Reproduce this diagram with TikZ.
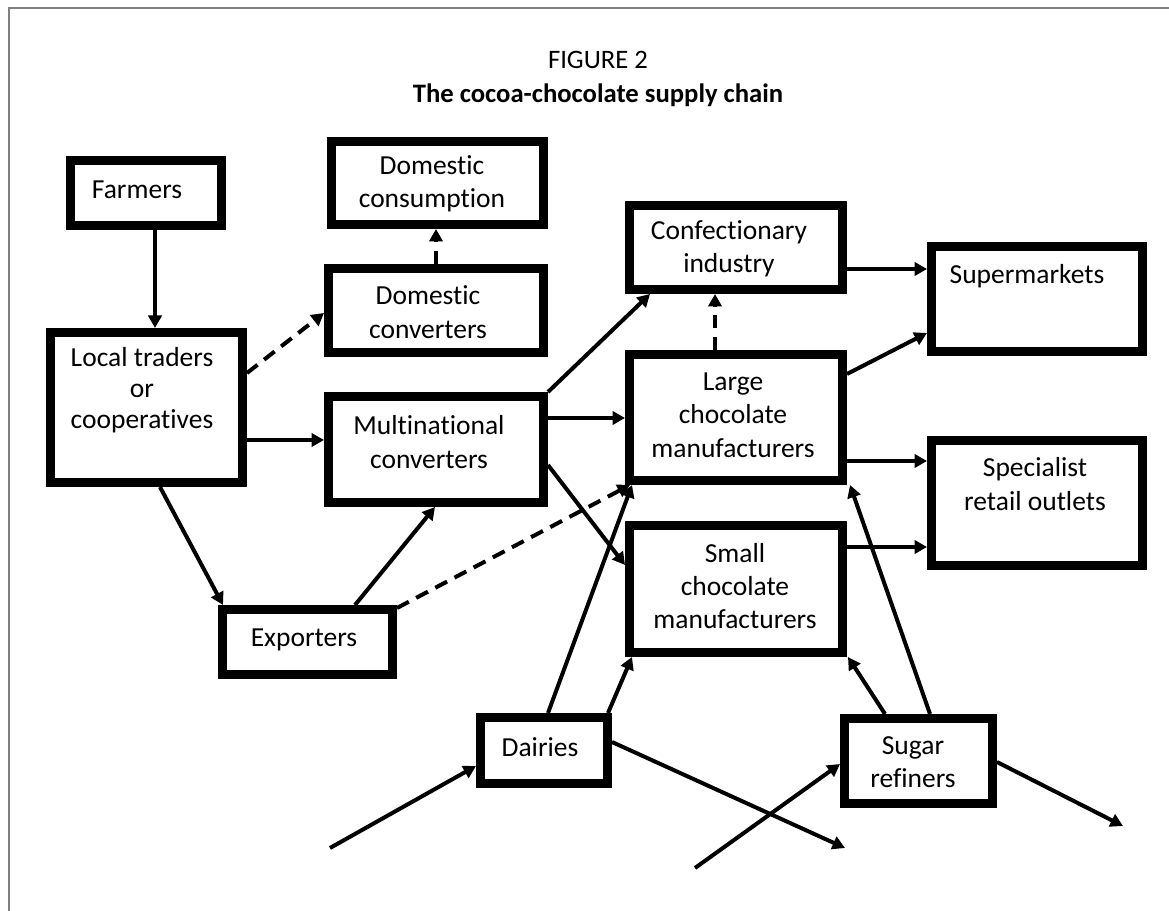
\documentclass[tikz,border=0pt]{standalone}
\usepackage{fontspec}
\setmainfont{Carlito}[Ligatures=NoCommon]
\usetikzlibrary{arrows.meta}
\begin{document}
\begin{tikzpicture}[x=0.6pt,y=-0.6pt,
  box/.style={draw=black, line width=5.4pt, inner sep=0pt, fill=white},
  lbl/.style={align=center, font=\fontsize{16.5}{20}\selectfont, inner sep=0pt},
  arr/.style={line width=2.4pt, -{Triangle[length=7.5pt,width=8pt]}},
  darr/.style={arr, dash pattern=on 8pt off 5pt},
  ttl/.style={font=\fontsize{16}{20}\selectfont, inner sep=0pt}]
\useasboundingbox (0,0) rectangle (1169,911);
\fill[white] (0,0) rectangle (1169,911);
\draw[gray, line width=1.2pt] (9,911) -- (9,8) -- (1169,8);

% title
\node[ttl] (title1) at (598,60) {FIGURE 2};
\node[ttl, font=\fontsize{16}{20}\selectfont\bfseries] (title2) at (598,95) {The cocoa-chocolate supply chain};

% boxes
\node[box, minimum width=90.6pt,  minimum height=39pt]   (farmers) at (146,193) {};
\node[box, minimum width=127.2pt, minimum height=49.8pt] (domcons) at (437.5,183) {};
\node[box, minimum width=129pt,   minimum height=50.4pt] (domconv) at (436,310.5) {};
\node[box, minimum width=115.2pt, minimum height=90pt]   (local)   at (146.5,407.5) {};
\node[box, minimum width=129pt,   minimum height=63.6pt] (multi)   at (436,449.5) {};
\node[box, minimum width=127.8pt, minimum height=50.4pt] (conf)    at (736,247.5) {};
\node[box, minimum width=127.8pt, minimum height=75.6pt] (large)   at (736,417.5) {};
\node[box, minimum width=126.6pt, minimum height=63pt]   (super)   at (1037,299) {};
\node[box, minimum width=126.6pt, minimum height=75pt]   (spec)    at (1037,503) {};
\node[box, minimum width=127.8pt, minimum height=76.2pt] (small)   at (736,589) {};
\node[box, minimum width=102pt,   minimum height=39pt]   (exp)     at (307.5,642) {};
\node[box, minimum width=76.2pt,  minimum height=39.6pt] (dairies) at (544,750.5) {};
\node[box, minimum width=88.8pt,  minimum height=51pt]   (sugar)   at (918.5,761) {};

% labels
\node[lbl] (farmers-t) at (137,190) {Farmers};
\node[lbl] (domcons-t) at (432,184) {Domestic\\consumption};
\node[lbl] (domconv-t) at (428,312) {Domestic\\converters};
\node[lbl, font=\fontsize{16.5}{18.5}\selectfont] (local-t) at (142,390) {Local traders\\or\\cooperatives};
\node[lbl] (multi-t) at (429,442) {Multinational\\converters};
\node[lbl] (conf-t) at (729,249) {Confectionary\\industry};
\node[lbl] (super-t) at (1027,276) {Supermarkets};
\node[lbl] (large-t) at (733,415) {Large\\chocolate\\manufacturers};
\node[lbl] (spec-t) at (1035,484) {Specialist\\retail outlets};
\node[lbl] (small-t) at (735,586) {Small\\chocolate\\manufacturers};
\node[lbl] (exp-t) at (304,640) {Exporters};
\node[lbl] (dairies-t) at (540,747) {Dairies};
\node[lbl] (sugar-t) at (913,762) {Sugar\\refiners};

% free ends
\coordinate (din)  at (330,848);
\coordinate (dout) at (845,848);
\coordinate (sin)  at (695,868);
\coordinate (sout) at (1123,826);

% connectors
\draw[arr]  ([shift={(9,0)}]farmers.south) -- ([shift={(8.5,0)}]local.north);
\draw[darr] ([shift={(0,45)}]local.north east) -- ([shift={(0,2.5)}]domconv.west);
\draw[arr]  ([shift={(0,32.5)}]local.east) -- ([shift={(0,-9.5)}]multi.west);
\draw[arr]  ([shift={(13.5,0)}]local.south) -- ([shift={(5,0)}]exp.north west);
\draw[darr] (domconv.north) -- (domconv.north |- domcons.south);
\draw[arr]  ([shift={(47.5,0)}]exp.north) -- ([shift={(-1,0)}]multi.south);
\draw[darr] ([shift={(0,3)}]exp.north east) -- ([shift={(5,0)}]large.south west);
\draw[arr]  (multi.north east) -- ([shift={(25,0)}]conf.south west);
\draw[arr]  ([shift={(0,-31.5)}]multi.east) -- ([shift={(0,0.5)}]large.west);
\draw[arr]  ([shift={(0,15.5)}]multi.east) -- ([shift={(0,-24)}]small.west);
\draw[darr] ([shift={(-21,0)}]large.north) -- ([shift={(-21,0)}]conf.south);
\draw[arr]  ([shift={(0,21.5)}]conf.east) -- ([shift={(0,-30)}]super.west);
\draw[arr]  ([shift={(0,24)}]large.north east) -- ([shift={(0,34)}]super.west);
\draw[arr]  ([shift={(0,43.5)}]large.east) -- ([shift={(0,-42)}]spec.west);
\draw[arr]  ([shift={(0,-42)}]small.east) -- ([shift={(0,44)}]spec.west);
\draw[arr]  ([shift={(4,0)}]dairies.north) -- ([shift={(7,0)}]large.south west);
\draw[arr]  ([shift={(-4,0)}]dairies.north east) -- ([shift={(7,0)}]small.south west);
\draw[arr]  ([shift={(-33.5,0)}]sugar.north) -- ([shift={(1,0)}]small.south east);
\draw[arr]  ([shift={(11.5,0)}]sugar.north) -- ([shift={(3,0)}]large.south east);
\draw[arr]  ([shift={(0,-8.5)}]dairies.east) -- (dout);
\draw[arr]  (din) -- ([shift={(0,15.5)}]dairies.west);
\draw[arr]  (sin) -- ([shift={(0,3)}]sugar.west);
\draw[arr]  ([shift={(0,1)}]sugar.east) -- (sout);
\end{tikzpicture}
\end{document}
